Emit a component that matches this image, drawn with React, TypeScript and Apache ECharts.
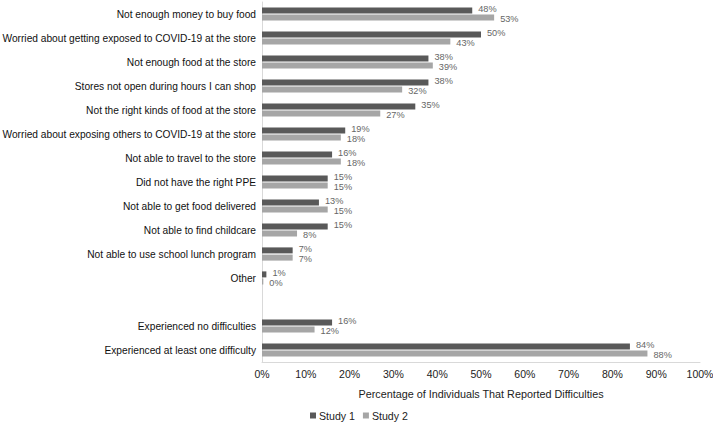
import React, { useEffect, useRef } from "react";
import * as echarts from "echarts";

const categories = [
  "Not enough money to buy food",
  "Worried about getting exposed to COVID-19 at the store",
  "Not enough food at the store",
  "Stores not open during hours I can shop",
  "Not the right kinds of food at the store",
  "Worried about exposing others to COVID-19 at the store",
  "Not able to travel to the store",
  "Did not have the right PPE",
  "Not able to get food delivered",
  "Not able to find childcare",
  "Not able to use school lunch program",
  "Other",
  "",
  "Experienced no difficulties",
  "Experienced at least one difficulty",
];

const study1 = [48, 50, 38, 38, 35, 19, 16, 15, 13, 15, 7, 1, null, 16, 84];
const study2 = [53, 43, 39, 32, 27, 18, 18, 15, 15, 8, 7, 0.3, null, 12, 88];

const xTicks = [0, 10, 20, 30, 40, 50, 60, 70, 80, 90, 100];

const FONT = "'Liberation Sans', Arial, Helvetica, sans-serif";

export default function App() {
  const ref = useRef<HTMLDivElement>(null);
  useEffect(() => {
    if (!ref.current) return;
    const chart = echarts.init(ref.current, undefined, { renderer: "svg" });
    const makeLabel = (dy: number) => ({
      show: true,
      position: "right" as const,
      distance: 6,
      offset: [0, dy],
      color: "#666",
      fontSize: 9.2,
      lineHeight: 8,
      fontFamily: FONT,
      formatter: (p: any) => (p.value == null ? "" : Math.round(p.value) + "%"),
    });
    chart.setOption({
      animation: false,
      textStyle: { fontFamily: FONT },
      grid: {
        left: 262,
        right: 13,
        top: 2,
        bottom: 61,
        containLabel: false,
        outerBoundsMode: "none",
      },
      legend: {
        top: 410,
        left: 310,
        padding: 0,
        itemWidth: 6,
        itemHeight: 6,
        itemGap: 8,
        icon: "rect",
        textStyle: { fontSize: 10.6, color: "#222", fontFamily: FONT, padding: [0, 0, 0, -2] },
        data: ["Study 1", "Study 2"],
      },
      xAxis: {
        type: "value",
        min: xTicks[0],
        max: xTicks[xTicks.length - 1],
        interval: 10,
        name: "Percentage of Individuals That Reported Difficulties",
        nameLocation: "middle",
        nameGap: 26,
        nameTextStyle: { fontSize: 10.8, color: "#222", fontFamily: FONT },
        axisLine: { show: true, lineStyle: { color: "#d9d9d9" } },
        axisTick: { show: false },
        splitLine: { show: false },
        axisLabel: {
          formatter: (v: number) => v + "%",
          fontSize: 10.5,
          color: "#222",
          margin: 6,
          fontFamily: FONT,
        },
      },
      yAxis: {
        type: "category",
        inverse: true,
        data: categories,
        axisLine: { show: true, lineStyle: { color: "#d9d9d9" } },
        axisTick: { show: false },
        axisLabel: { fontSize: 10.2, color: "#111", margin: 6, fontFamily: FONT },
      },
      series: [
        {
          name: "Study 1",
          type: "bar",
          data: study1,
          barWidth: 6,
          barGap: "20%",
          itemStyle: { color: "#595959" },
          label: makeLabel(-1),
        },
        {
          name: "Study 2",
          type: "bar",
          data: study2,
          barWidth: 6,
          itemStyle: { color: "#a6a6a6" },
          label: makeLabel(1),
        },
      ],
    });
    return () => chart.dispose();
  }, []);
  return (
    <div
      ref={ref}
      style={{ position: "fixed", left: 0, top: 0, width: 713, height: 423, background: "#fff" }}
    />
  );
}
